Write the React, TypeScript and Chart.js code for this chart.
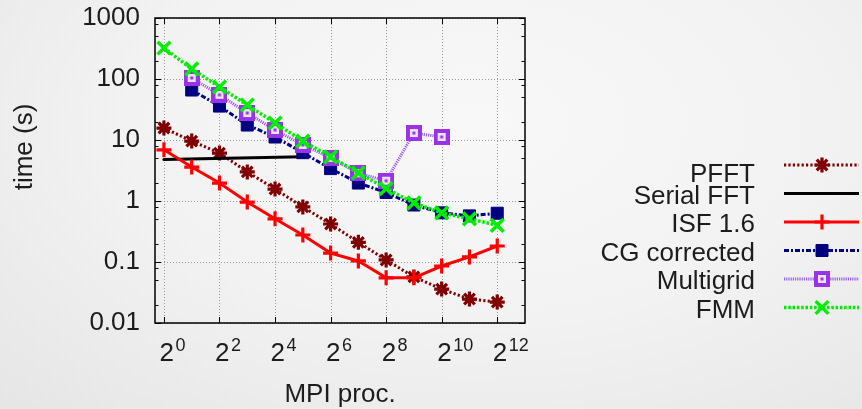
import React, { useEffect, useRef } from 'react';
import { Chart, registerables } from 'chart.js';
import { drawPoint } from 'chart.js/helpers';

Chart.register(...registerables);

// ---------- data ----------
const procs = [1, 2, 4, 8, 16, 32, 64, 128, 256, 512, 1024, 2048, 4096];
const seriesNames = ['PFFT', 'Serial FFT', 'ISF 1.6', 'CG corrected', 'Multigrid', 'FMM'];
const pfft = [15.7, 9.6, 6.1, 3.0, 1.57, 0.8, 0.42, 0.21, 0.108, 0.057, 0.036, 0.0247, 0.022];
const serialFFT = [4.8, null, null, null, null, 5.3, null, null, null, null, null, null, null];
const isf = [6.9, 3.6, 1.97, 0.96, 0.51, 0.277, 0.14, 0.104, 0.055, 0.055, 0.086, 0.121, 0.183];
const cgCorrected = [null, 66, 36, 17.6, 11.2, 6.2, 3.4, 1.97, 1.38, 0.86, 0.64, 0.57, 0.63];
const multigrid = [null, 104, 55, 27.7, 14.6, 8.3, 5.1, 2.85, 2.15, 13.0, 11.2, null, null];
const fmm = [322, 146, 74, 37.5, 19, 9.6, 5.3, 2.9, 1.6, 0.93, 0.64, 0.51, 0.4];
const xTickBase = '2';
const xTickExps = [0, 2, 4, 6, 8, 10, 12];
const yTickValues = [0.01, 0.1, 1, 10, 100, 1000];
const yTickLabels = ['0.01', '0.1', '1', '10', '100', '1000'];
const yMinorFactors = [2, 5, 8];
const xTitle = 'MPI proc.';
const yTitle = 'time (s)';

const FONT = "'Liberation Sans', Arial, sans-serif";
const TEXT = '#1c1c1c';

function makeMgMarker() {
  const c = document.createElement('canvas');
  c.width = 16;
  c.height = 16;
  const g = c.getContext('2d')!;
  g.fillStyle = '#9933e6';
  g.fillRect(0, 0, 16, 16);
  g.fillStyle = '#ece4f4';
  g.fillRect(4, 4, 8, 8);
  g.fillStyle = '#9933e6';
  g.fillRect(6.5, 6.5, 3, 3);
  return c;
}

const toPoints = (vals: (number | null)[]) =>
  procs.map((p, i) => ({ x: p, y: vals[i] })).filter((d) => d.y !== null);

const framePlugin = {
  id: 'gnuFrame',
  beforeDatasetsDraw(chart: any) {
    const { ctx, chartArea: a, scales } = chart;
    const x = scales.x;
    const y = scales.y;
    ctx.save();
    ctx.strokeStyle = '#9a9a9a';
    ctx.lineWidth = 1;
    ctx.setLineDash([1, 2]);
    x.ticks.forEach((t: any) => {
      const px = Math.round(x.getPixelForValue(t.value)) + 0.5;
      ctx.beginPath();
      ctx.moveTo(px, a.top);
      ctx.lineTo(px, a.bottom);
      ctx.stroke();
    });
    y.ticks.forEach((t: any) => {
      const py = Math.round(y.getPixelForValue(t.value)) + 0.5;
      ctx.beginPath();
      ctx.moveTo(a.left, py);
      ctx.lineTo(a.right, py);
      ctx.stroke();
    });
    ctx.restore();
  },
  afterDatasetsDraw(chart: any) {
    const { ctx, chartArea: a, scales } = chart;
    const x = scales.x;
    const y = scales.y;
    ctx.save();
    ctx.setLineDash([]);
    ctx.strokeStyle = '#000';
    ctx.lineWidth = 1.5;
    ctx.strokeRect(a.left, a.top, a.right - a.left, a.bottom - a.top);
    ctx.lineWidth = 1;
    const tick = (x1: number, y1: number, x2: number, y2: number) => {
      ctx.beginPath();
      ctx.moveTo(x1, y1);
      ctx.lineTo(x2, y2);
      ctx.stroke();
    };
    x.ticks.forEach((t: any) => {
      const px = Math.round(x.getPixelForValue(t.value)) + 0.5;
      tick(px, a.bottom, px, a.bottom - 6);
      tick(px, a.top, px, a.top + 6);
    });
    y.ticks.forEach((t: any) => {
      const py = Math.round(y.getPixelForValue(t.value)) + 0.5;
      tick(a.left, py, a.left + 6, py);
      tick(a.right, py, a.right - 6, py);
    });
    yTickValues.slice(0, -1).forEach((dec) => {
      yMinorFactors.forEach((f) => {
        const py = Math.round(y.getPixelForValue(dec * f)) + 0.5;
        tick(a.left, py, a.left + 3.5, py);
        tick(a.right, py, a.right - 3.5, py);
      });
    });

    // x tick labels: base with superscript exponent
    ctx.fillStyle = TEXT;
    ctx.textAlign = 'left';
    ctx.textBaseline = 'alphabetic';
    x.ticks.forEach((t: any, i: number) => {
      const px = x.getPixelForValue(t.value);
      ctx.font = `26px ${FONT}`;
      const x0 = px - 4.5;
      ctx.fillText(xTickBase, x0, 361);
      const w = ctx.measureText(xTickBase).width;
      ctx.font = `18px ${FONT}`;
      ctx.fillText(String(xTickExps[i]), x0 + w + 1.5, 351);
    });

    // axis titles
    ctx.fillStyle = TEXT;
    ctx.font = `26px ${FONT}`;
    ctx.textAlign = 'center';
    ctx.textBaseline = 'alphabetic';
    ctx.fillText(xTitle, (a.left + a.right) / 2, 402);
    ctx.save();
    ctx.translate(32, 147);
    ctx.rotate(-Math.PI / 2);
    ctx.fillText(yTitle, 0, 0);
    ctx.restore();

    // legend
    const textRight = 755;
    const lineX0 = 784;
    const lineX1 = 859;
    const markX = 822;
    chart.data.datasets.forEach((ds: any, i: number) => {
      const ly = 165 + i * 28.5;
      ctx.fillStyle = TEXT;
      ctx.font = `26px ${FONT}`;
      ctx.textAlign = 'right';
      ctx.textBaseline = 'alphabetic';
      ctx.fillText(ds.label, textRight, ly + (i === 0 ? 17 : 10));
      ctx.save();
      ctx.strokeStyle = ds.borderColor;
      ctx.lineWidth = ds.borderWidth;
      ctx.setLineDash(ds.borderDash || []);
      ctx.beginPath();
      ctx.moveTo(lineX0, ly);
      ctx.lineTo(lineX1, ly);
      ctx.stroke();
      ctx.setLineDash([]);
      ctx.fillStyle = ds.pointBackgroundColor;
      ctx.strokeStyle = ds.pointBorderColor;
      ctx.lineWidth = ds.pointBorderWidth;
      drawPoint(
        ctx,
        {
          pointStyle: ds.pointStyle,
          radius: ds.pointRadius,
          rotation: 0,
          borderWidth: ds.pointBorderWidth,
        } as any,
        markX,
        ly
      );
      ctx.restore();
    });
    ctx.restore();
  },
};

export default function App() {
  const ref = useRef<HTMLCanvasElement>(null);
  useEffect(() => {
    const mg = makeMgMarker();
    const mk = (
      i: number,
      vals: (number | null)[],
      color: string,
      width: number,
      dash: number[],
      pointStyle: any,
      radius: number,
      pbw: number,
      pColor: string = color
    ) => ({
      label: seriesNames[i],
      data: toPoints(vals),
      borderColor: color,
      borderWidth: width,
      borderDash: dash,
      pointStyle,
      pointRadius: radius,
      pointHoverRadius: radius,
      pointBorderWidth: pbw,
      pointBackgroundColor: pColor,
      pointBorderColor: pColor,
      spanGaps: true,
      tension: 0,
      order: 6 - i,
    });
    const datasets = [
      mk(0, pfft, '#800000', 3, [2.2, 2.2], 'star', 7.5, 3.2),
      mk(1, serialFFT, '#000000', 3, [], 'circle', 1.5, 0),
      mk(2, isf, '#ff0000', 3, [], 'cross', 7.5, 3.2),
      mk(3, cgCorrected, '#000080', 3, [5, 2, 2, 2], 'rect', 8.5, 1),
      mk(4, multigrid, '#9f5cf0', 3, [1.2, 1], mg, 8, 0, '#9933e6'),
      mk(5, fmm, '#00ee00', 3.5, [2.5, 1.8], 'crossRot', 9, 3.5),
    ];
    const chart = new Chart(ref.current!, {
      type: 'line',
      data: { datasets },
      options: {
        animation: false,
        responsive: true,
        maintainAspectRatio: false,
        parsing: false as any,
        layout: { padding: { left: 0, top: 18, right: 337, bottom: 0 } },
        plugins: { legend: { display: false }, tooltip: { enabled: false } },
        scales: {
          x: {
            type: 'logarithmic',
            min: 0.8,
            max: 8192,
            grid: { display: false, drawTicks: false },
            border: { display: false },
            afterBuildTicks: (scale: any) => {
              scale.ticks = xTickExps.map((e) => ({ value: 2 ** e }));
            },
            afterFit: (scale: any) => {
              scale.height = 86;
              scale.paddingLeft = 0;
              scale.paddingRight = 0;
            },
            ticks: { display: false, autoSkip: false },
          },
          y: {
            type: 'logarithmic',
            min: 0.01,
            max: 1000,
            grid: { display: false, drawTicks: false },
            border: { display: false },
            afterBuildTicks: (scale: any) => {
              scale.ticks = yTickValues.map((v) => ({ value: v }));
            },
            afterFit: (scale: any) => {
              scale.width = 155;
              scale.paddingTop = 0;
              scale.paddingBottom = 0;
            },
            ticks: {
              autoSkip: false,
              padding: 15,
              color: TEXT,
              font: { family: FONT, size: 26 },
              callback: (_v: any, idx: number) => yTickLabels[idx],
            },
          },
        },
      },
      plugins: [framePlugin],
    } as any);
    return () => chart.destroy();
  }, []);

  return (
    <div
      style={{
        position: 'fixed',
        left: 0,
        top: 0,
        width: 862,
        height: 409,
        background:
          'radial-gradient(ellipse 90% 110% at 55% 30%, #f8f8f8 0%, #f2f2f2 45%, #e2e2e2 100%)',
      }}
    >
      <canvas ref={ref} />
    </div>
  );
}
